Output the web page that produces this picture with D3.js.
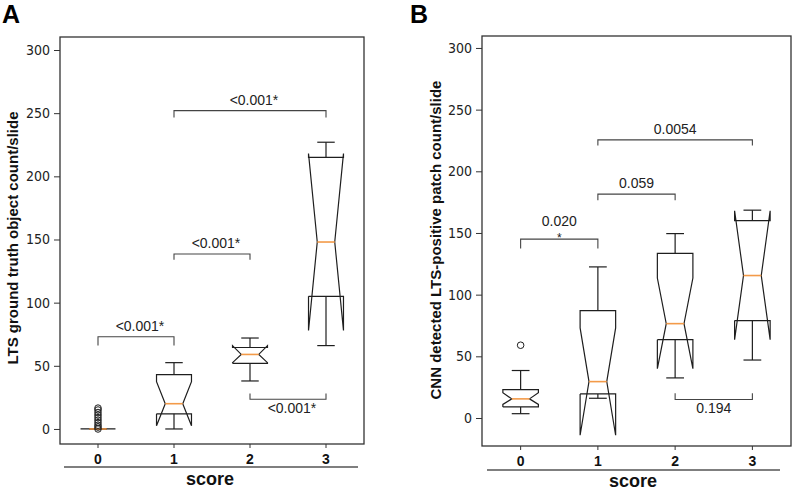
<!DOCTYPE html>
<html>
<head>
<meta charset="utf-8">
<script src="https://cdn.jsdelivr.net/npm/d3@7"></script>
<style>
  body { margin: 0; background: #fff; }
  text { font-family: "Liberation Sans", Arial, sans-serif; }
</style>
</head>
<body>
<div id="chart"></div>
<script>
// categories + tick labels
const scores = ["0", "1", "2", "3"];
const yTicks = [0, 50, 100, 150, 200, 250, 300];

// panel A : LTS ground truth object count/slide
const q1A     = [0, 12, 52, 105];
const medA    = [0, 20, 59, 148];
const q3A     = [0, 43, 64.5, 215];
const whisLoA = [0, 0, 38, 66];
const whisHiA = [0, 52.5, 72, 227];
const ciLoA   = [0, 2.5, 52.5, 78];
const ciHiA   = [0, 37.5, 66, 218];
const fliersA = [[0, 1.5, 3, 5, 7, 9, 11, 13, 15, 16.5], [], [], []];

const bracketPairsA = [[0, 1], [1, 2], [1, 3], [2, 3]];
const bracketLevelA = [73, 138.5, 252, 23.5];
const bracketTipA   = [66, 134, 246.5, 28];
const bracketTextA  = ["<0.001*", "<0.001*", "<0.001*", "<0.001*"];
const bracketStarA  = ["", "", "", ""];

// panel B : CNN detected LTS-positive patch count/slide
const q1B     = [9, 19.5, 63.5, 79];
const medB    = [15.5, 29.5, 76.5, 115.5];
const q3B     = [23, 87, 133.5, 160];
const whisLoB = [3.5, 16, 32.5, 47];
const whisHiB = [38.5, 122.5, 149.5, 168.5];
const ciLoB   = [11, -14, 40, 63.5];
const ciHiB   = [20.5, 73, 113.5, 168];
const fliersB = [[59], [], [], []];

const bracketPairsB = [[0, 1], [1, 2], [1, 3], [2, 3]];
const bracketLevelB = [145, 181.5, 225.5, 15];
const bracketTipB   = [137.5, 176.5, 221, 20];
const bracketTextB  = ["0.020", "0.059", "0.0054", "0.194"];
const bracketStarB  = ["*", "", "", ""];

const MEDIAN_COLOR = "#f39a48";
const LINE_COLOR = "#1e1e1e";
const NARROW = '"Liberation Sans Narrow", "DejaVu Sans Condensed", "Arial Narrow", sans-serif';

const svg = d3.select("#chart").append("svg")
  .attr("width", 797)
  .attr("height", 490);

function makeStats(q1, med, q3, lo, hi, cilo, cihi, fliers) {
  return scores.map((s, i) => ({
    score: s, q1: q1[i], med: med[i], q3: q3[i],
    lo: lo[i], hi: hi[i], cilo: cilo[i], cihi: cihi[i], fliers: fliers[i]
  }));
}

function makeBrackets(pairs, level, tip, text, star) {
  return pairs.map((p, i) => ({
    a: scores[p[0]], b: scores[p[1]], level: level[i], tip: tip[i], text: text[i], star: star[i]
  }));
}

function drawPanel(cfg) {
  const { frame } = cfg;
  const g = svg.append("g");

  const x = d3.scaleBand()
    .domain(scores)
    .range([frame.x0, frame.x1]);
  const cx = s => x(s) + x.bandwidth() / 2;

  const y = d3.scaleLinear()
    .domain(cfg.yDomain)
    .range([frame.y1, frame.y0]);

  const boxW = 0.46 * x.bandwidth();

  // frame
  g.append("rect")
    .attr("x", frame.x0).attr("y", frame.y0)
    .attr("width", frame.x1 - frame.x0).attr("height", frame.y1 - frame.y0)
    .attr("fill", "none").attr("stroke", "#333").attr("stroke-width", 1.3);

  // y axis
  const ya = g.append("g")
    .attr("transform", `translate(${frame.x0},0)`)
    .call(d3.axisLeft(y).tickValues(yTicks).tickSize(6).tickPadding(4));
  ya.select(".domain").remove();
  ya.selectAll("line").attr("stroke", "#333");
  ya.selectAll("text")
    .style("font-family", NARROW)
    .style("font-size", "14px")
    .attr("fill", "#222");

  // x axis
  const xa = g.append("g")
    .attr("transform", `translate(0,${frame.y1})`)
    .call(d3.axisBottom(x).tickSize(4).tickPadding(6));
  xa.select(".domain").remove();
  xa.selectAll("line").attr("stroke", "#333");
  xa.selectAll("text")
    .style("font-size", "14px")
    .style("font-weight", "bold")
    .attr("fill", "#111");

  // rule under tick labels + axis titles
  g.append("line")
    .attr("x1", cfg.rule[0]).attr("x2", cfg.rule[1])
    .attr("y1", cfg.ruleY).attr("y2", cfg.ruleY)
    .attr("stroke", "#555").attr("stroke-width", 1.4);

  g.append("text")
    .attr("x", cfg.xTitle[0]).attr("y", cfg.xTitle[1])
    .attr("text-anchor", "middle")
    .style("font-size", "18px").style("font-weight", "bold")
    .attr("fill", "#111")
    .text("score");

  g.append("text")
    .attr("transform", `translate(${cfg.yTitle[0]},${cfg.yTitle[1]}) rotate(-90)`)
    .attr("text-anchor", "middle")
    .style("font-size", "15px").style("font-weight", "bold")
    .attr("fill", "#111")
    .text(cfg.yLabel);

  g.append("text")
    .attr("x", cfg.letter[0]).attr("y", cfg.letter[1])
    .style("font-size", "25px").style("font-weight", "bold")
    .attr("fill", "#000")
    .text(cfg.letterText);

  // boxes
  const line = d3.line();
  const boxes = g.selectAll("g.box")
    .data(cfg.stats)
    .enter()
    .append("g")
    .attr("class", "box");

  boxes.each(function (d) {
    const b = d3.select(this);
    const c = cx(d.score);
    const L = c - boxW / 2, R = c + boxW / 2;
    const nL = c - boxW / 4, nR = c + boxW / 4;

    // whiskers
    b.append("line")
      .attr("x1", c).attr("x2", c).attr("y1", y(d.q1)).attr("y2", y(d.lo))
      .attr("stroke", LINE_COLOR).attr("stroke-width", 1.2);
    b.append("line")
      .attr("x1", c).attr("x2", c).attr("y1", y(d.q3)).attr("y2", y(d.hi))
      .attr("stroke", LINE_COLOR).attr("stroke-width", 1.2);

    // caps
    [d.lo, d.hi].forEach(v => {
      b.append("line")
        .attr("x1", nL).attr("x2", nR).attr("y1", y(v)).attr("y2", y(v))
        .attr("stroke", LINE_COLOR).attr("stroke-width", 1.2);
    });

    // notched box, same vertex order as matplotlib
    const pts = [
      [L, d.q1], [R, d.q1], [R, d.cilo], [nR, d.med], [R, d.cihi], [R, d.q3],
      [L, d.q3], [L, d.cihi], [nL, d.med], [L, d.cilo], [L, d.q1]
    ].map(p => [p[0], y(p[1])]);
    b.append("path")
      .attr("d", line(pts))
      .attr("fill", "none")
      .attr("stroke", LINE_COLOR)
      .attr("stroke-width", 1.2)
      .attr("stroke-linejoin", "miter");

    // median
    b.append("line")
      .attr("x1", nL).attr("x2", nR).attr("y1", y(d.med)).attr("y2", y(d.med))
      .attr("stroke", MEDIAN_COLOR).attr("stroke-width", 1.6);

    // fliers
    b.selectAll("circle")
      .data(d.fliers)
      .enter()
      .append("circle")
      .attr("cx", c)
      .attr("cy", v => y(v))
      .attr("r", 3.3)
      .attr("fill", "none")
      .attr("stroke", LINE_COLOR)
      .attr("stroke-width", 1);
  });

  // significance brackets
  cfg.brackets.forEach(br => {
    const xa1 = cx(br.a), xb1 = cx(br.b);
    const yl = y(br.level), yt = y(br.tip);
    g.append("path")
      .attr("d", line([[xa1, yt], [xa1, yl], [xb1, yl], [xb1, yt]]))
      .attr("fill", "none")
      .attr("stroke", "#444")
      .attr("stroke-width", 1.1);

    const mid = (xa1 + xb1) / 2;
    const above = br.tip < br.level;
    let ty = above ? yl - 6 : yl + 14;
    if (br.star) ty = yl - 13;

    g.append("text")
      .attr("x", mid)
      .attr("dx", br.text.endsWith("*") ? 4 : 0)
      .attr("y", ty)
      .attr("text-anchor", "middle")
      .style("font-size", "14px")
      .attr("fill", "#222")
      .text(br.text);

    if (br.star) {
      g.append("text")
        .attr("x", mid)
        .attr("y", yl + 3)
        .attr("text-anchor", "middle")
        .style("font-size", "12px")
        .attr("fill", "#222")
        .text(br.star);
    }
  });
}

drawPanel({
  frame: { x0: 60, x1: 364, y0: 37, y1: 444 },
  yDomain: [-11.9, 310.3],
  stats: makeStats(q1A, medA, q3A, whisLoA, whisHiA, ciLoA, ciHiA, fliersA),
  brackets: makeBrackets(bracketPairsA, bracketLevelA, bracketTipA, bracketTextA, bracketStarA),
  yLabel: "LTS ground truth object count/slide",
  yTitle: [18, 238],
  xTitle: [210, 485],
  rule: [64, 358], ruleY: 467,
  letter: [2, 23], letterText: "A"
});

drawPanel({
  frame: { x0: 482, x1: 791, y0: 36, y1: 446 },
  yDomain: [-22.7, 309.7],
  stats: makeStats(q1B, medB, q3B, whisLoB, whisHiB, ciLoB, ciHiB, fliersB),
  brackets: makeBrackets(bracketPairsB, bracketLevelB, bracketTipB, bracketTextB, bracketStarB),
  yLabel: "CNN detected LTS-positive patch count/slide",
  yTitle: [441, 240],
  xTitle: [633, 487],
  rule: [487, 780], ruleY: 470,
  letter: [410, 23], letterText: "B"
});
</script>
</body>
</html>
